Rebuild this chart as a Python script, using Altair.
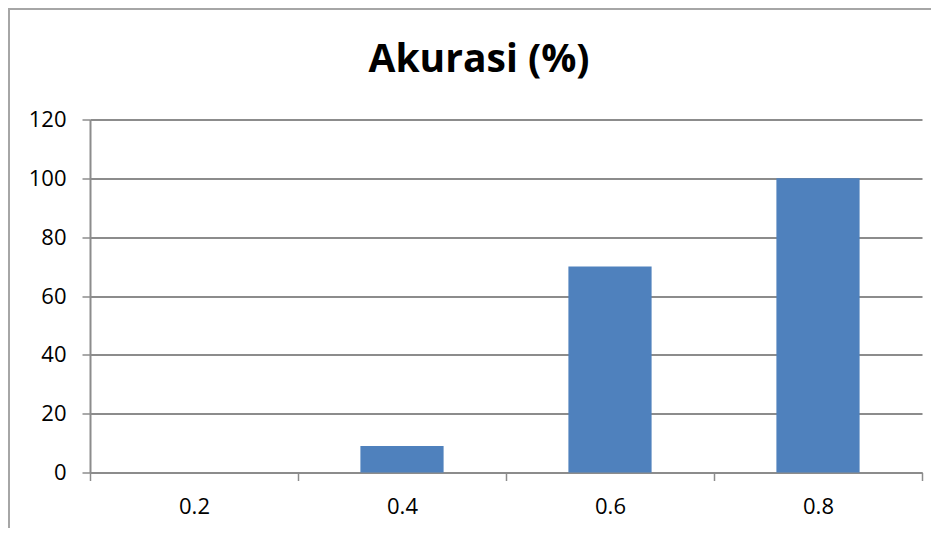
import altair as alt
import pandas as pd

categories = ["0.2", "0.4", "0.6", "0.8"]
values = [0, 9, 70, 100]
title_text = "Akurasi (%)"

df = pd.DataFrame({"threshold": categories, "akurasi": values})

GRID = "#8c8c8c"
FONT = "Open Sans"

bars = alt.Chart(df).mark_bar(color="#4f81bd", width=alt.RelativeBandSize(0.4)).encode(
    x=alt.X(
        "threshold:N",
        sort=categories,
        scale=alt.Scale(paddingInner=0, paddingOuter=0),
        axis=alt.Axis(
            title=None,
            labelAngle=0,
            tickBand="extent",
            tickSize=8,
            tickColor=GRID,
            tickWidth=1.5,
            domainColor=GRID,
            domainWidth=2,
            labelFont=FONT,
            labelFontSize=22,
            labelColor="#000000",
            labelPadding=16,
            grid=False,
        ),
    ),
    y=alt.Y(
        "akurasi:Q",
        scale=alt.Scale(domain=[0, 120], nice=False),
        axis=alt.Axis(
            title=None,
            values=[0, 20, 40, 60, 80, 100, 120],
            tickSize=8,
            tickColor=GRID,
            tickWidth=1.5,
            domainColor=GRID,
            domainWidth=2,
            gridColor=GRID,
            gridWidth=1.8,
            labelFont=FONT,
            labelFontSize=22,
            labelColor="#000000",
            labelPadding=16,
        ),
    ),
)

frame = alt.Data(values=[{"t": title_text}])
top_border = alt.Chart(frame).mark_rule(color="#a6a6a6", strokeWidth=2).encode(
    x=alt.value(-82), x2=alt.value(850), y=alt.value(-110.5)
)
left_border = alt.Chart(frame).mark_rule(color="#a6a6a6", strokeWidth=2).encode(
    x=alt.value(-81), y=alt.value(-111.5), y2=alt.value(420)
)
title = alt.Chart(frame).mark_text(
    font=FONT, fontSize=39, fontWeight="bold", color="#000000",
    align="center", baseline="alphabetic",
).encode(text="t:N", x=alt.value(389), y=alt.value(-47.5))

chart = (
    alt.layer(bars, top_border, left_border, title)
    .properties(
        width=832,
        height=353,
        padding={"left": 82, "top": 111.5, "right": 9, "bottom": 55},
        autosize=alt.AutoSizeParams(type="none"),
    )
    .configure_view(stroke=None)
    .configure_axis(gridOpacity=1)
)

chart.save("out.html", embed_options={"renderer": "svg", "actions": False})
